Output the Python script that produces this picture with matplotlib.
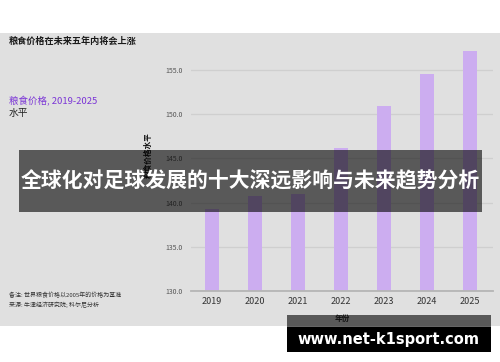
import matplotlib
matplotlib.use("Agg")
import matplotlib.pyplot as plt
from matplotlib.patches import Rectangle

plt.rcParams['font.family'] = ['Noto Sans CJK SC', 'DejaVu Sans']

years = ["2019", "2020", "2021", "2022", "2023", "2024", "2025"]
values = [139.3, 140.7, 141.0, 146.2, 150.9, 154.5, 157.1]
yticks = [130.0, 135.0, 140.0, 145.0, 150.0, 155.0]

W, H = 500, 362
fig = plt.figure(figsize=(5, 3.62), dpi=100)
fig.patch.set_facecolor("white")

def fr(x0, y0, x1, y1, **kw):
    r = Rectangle((x0 / W, 1 - y1 / H), (x1 - x0) / W, (y1 - y0) / H,
                  transform=fig.transFigure, **kw)
    fig.add_artist(r)
    return r

# gray panel
fr(0, 33, 500, 326, facecolor="#e0e0e0", edgecolor="none", zorder=0)

ax = fig.add_axes([191 / W, 1 - 291 / H, (493 - 191) / W, (291 - 47.9) / H])
ax.set_facecolor("none")
x = list(range(len(years)))
ax.bar(x, values, width=0.31, color="#ccadf0", zorder=2)
ax.set_ylim(130, 157.5)
ax.set_xlim(-0.488, 6.535)
ax.set_yticks(yticks)
ax.set_yticklabels([f"{v:.1f}" for v in yticks], fontsize=5, color="#555555")
ax.set_xticks(x)
ax.set_xticklabels(years, fontsize=6.5, color="#333333")
ax.tick_params(axis="y", length=0, pad=6)
ax.tick_params(axis="x", length=0, pad=4)
for s in ["top", "right", "left"]:
    ax.spines[s].set_visible(False)
ax.spines["bottom"].set_color("#b5b5b5")
ax.spines["bottom"].set_linewidth(1.3)
ax.yaxis.grid(True, color="#cfcfcf", linewidth=0.9, zorder=1)
ax.set_axisbelow(True)
ax.set_ylabel("粮食价格水平", fontsize=5.5, fontweight="bold", color="#111111")
ax.yaxis.set_label_coords(-0.128, 0.56)
ax.set_xlabel("年份", fontsize=5.5, fontweight="bold", labelpad=6, color="#222222")

# left texts
fig.text(9 / W, 1 - 41 / H, "粮食价格在未来五年内将会上涨", fontsize=6.6, fontweight="bold",
         color="#1a1a1a", va="center", ha="left")
fig.text(9 / W, 1 - 101 / H, "粮食价格, 2019-2025", fontsize=6.8, color="#7b35d6",
         va="center", ha="left")
fig.text(9 / W, 1 - 113 / H, "水平", fontsize=7.0, color="#222222", va="center", ha="left")
fig.text(9 / W, 1 - 295 / H, "备注: 世界粮食价格以2005年的价格为基准", fontsize=4.3,
         color="#333333", va="center", ha="left")
fig.text(9 / W, 1 - 305 / H, "来源: 牛津经济研究院; 科尔尼分析", fontsize=4.3,
         color="#333333", va="center", ha="left")

# overlay band with title
fr(19, 150, 482, 212, facecolor="black", alpha=0.6, edgecolor="none", zorder=10)
fig.text(250 / W, 1 - 181 / H, "全球化对足球发展的十大深远影响与未来趋势分析",
         fontsize=15.0, fontweight="bold", color="white", ha="center", va="center", zorder=11)

# watermark
fr(287, 315, 491, 352, facecolor="black", alpha=0.6, edgecolor="none", zorder=10)
fr(287, 327, 491, 352, facecolor="black", edgecolor="none", zorder=11)
fig.text(388 / W, 1 - 339.5 / H, "www.net-k1sport.com", fontsize=10.5, fontweight="bold",
         color="white", ha="center", va="center", zorder=12,
         family=["DejaVu Sans"])

fig.savefig("out.png", dpi=100)
